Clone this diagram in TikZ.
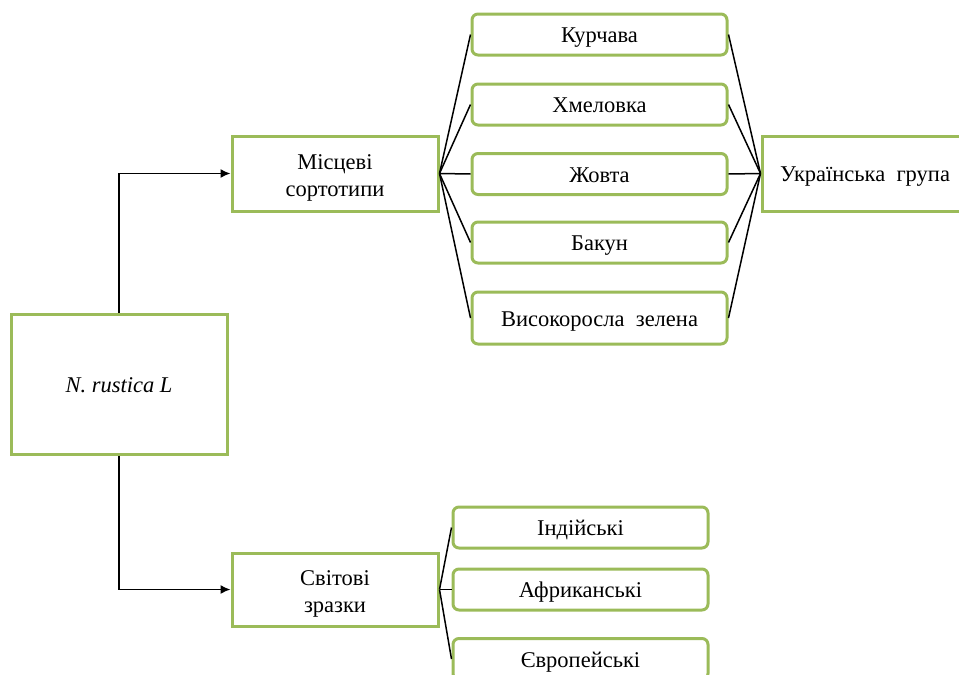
\documentclass[tikz,border=0pt]{standalone}
\usepackage{fontspec}
\setmainfont{Liberation Serif}
\usetikzlibrary{arrows.meta}
\definecolor{olive}{HTML}{9BBB59}
\tikzset{
  sqbox/.style={draw=olive, line width=3pt, fill=white, rectangle, inner sep=0pt},
  rbox/.style={sqbox, rounded corners=6pt, minimum width=255pt, minimum height=41pt},
  txt2/.style={inner sep=0pt, align=center, font=\fontsize{22.5}{27}\selectfont, yshift=-4pt},
  txt/.style={inner sep=0pt, font=\fontsize{22.5}{27}\selectfont, text height=15pt, text depth=5pt, yshift=-3pt},
  conn/.style={line width=1.5pt, black},
  arr/.style={conn, -{Latex[length=10pt,width=9pt]}}
}
\begin{document}
\begin{tikzpicture}[x=1pt,y=-1pt]
\useasboundingbox (0,0) rectangle (959,675);
\node[sqbox, minimum width=216pt, minimum height=140pt] (root) at (119,384) {};
\node[sqbox, minimum width=206pt, minimum height=75pt] (loc) at (335,173.5) {};
\node[sqbox, minimum width=206pt, minimum height=73pt] (world) at (335,589.5) {};
\node[sqbox, minimum width=206pt, minimum height=75pt] (ukr) at (865,173.5) {};
\node[rbox] (k) at (599.5,34.5) {};
\node[rbox] (h) at (599.5,104.5) {};
\node[rbox] (z) at (599.5,174) {};
\node[rbox] (b) at (599.5,242.5) {};
\node[rbox, minimum height=52pt] (v) at (599.5,318) {};
\node[rbox] (ind) at (580.5,527.5) {};
\node[rbox] (afr) at (580.5,589.5) {};
\node[rbox] (eur) at (580.5,659) {};
\node[txt] (roott) at (root.center) {\textit{N. rustica L}};
\node[txt2] (loct) at (loc.center) {Місцеві\\сортотипи};
\node[txt2] (worldt) at (world.center) {Світові\\зразки};
\node[txt] (ukrt) at (ukr.center) {Українська\ \ група};
\node[txt] (kt) at (k.center) {Курчава};
\node[txt] (ht) at (h.center) {Хмеловка};
\node[txt] (zt) at (z.center) {Жовта};
\node[txt] (bt) at (b.center) {Бакун};
\node[txt] (vt) at (v.center) {Високоросла\ \ зелена};
\node[txt] (indt) at (ind.center) {Індійські};
\node[txt] (afrt) at (afr.center) {Африканські};
\node[txt] (eurt) at (eur.center) {Європейські};
\foreach \n in {k,h,z,b,v}{
  \draw[conn] (loc.east) -- (\n.west);
  \draw[conn] (\n.east) -- (ukr.west);
}
\foreach \n in {ind,afr,eur}{
  \draw[conn] (world.east) -- (\n.west);
}
\draw[arr] (root.north) |- (loc.west);
\draw[arr] (root.south) |- (world.west);
\end{tikzpicture}
\end{document}
